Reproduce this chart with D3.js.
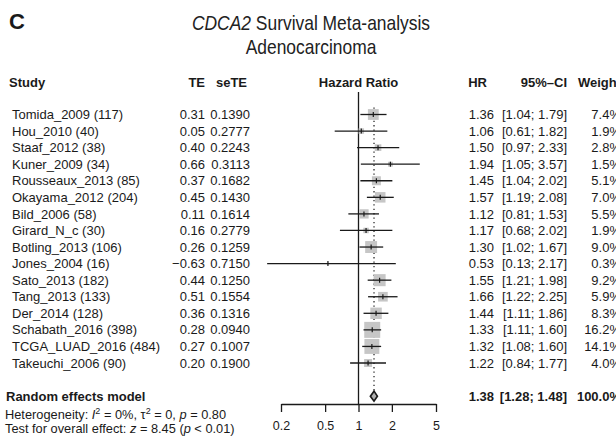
<!DOCTYPE html>
<html>
<head>
<meta charset="utf-8">
<script src="https://cdn.jsdelivr.net/npm/d3@7"></script>
<style>
  html, body { margin: 0; padding: 0; background: #fff; }
  svg { display: block; font-family: "Liberation Sans", Arial, Helvetica, sans-serif; }
  .cell { font-size: 13px; fill: #1a1a1a; }
  .head { font-size: 13px; font-weight: bold; fill: #1a1a1a; }
  .title { font-size: 20.5px; fill: #222; }
  .axis path, .axis line { stroke: #1a1a1a; stroke-width: 1.3; }
  .axis text { font-size: 12.5px; fill: #1a1a1a; font-family: "Liberation Sans", Arial, sans-serif; }
</style>
</head>
<body>
<svg id="chart" width="616" height="438"></svg>
<script>
// ---- data ----
const studies = ["Tomida_2009 (117)", "Hou_2010 (40)", "Staaf_2012 (38)", "Kuner_2009 (34)",
  "Rousseaux_2013 (85)", "Okayama_2012 (204)", "Bild_2006 (58)", "Girard_N_c (30)",
  "Botling_2013 (106)", "Jones_2004 (16)", "Sato_2013 (182)", "Tang_2013 (133)",
  "Der_2014 (128)", "Schabath_2016 (398)", "TCGA_LUAD_2016 (484)", "Takeuchi_2006 (90)"];
const te     = [0.31, 0.05, 0.40, 0.66, 0.37, 0.45, 0.11, 0.16, 0.26, -0.63, 0.44, 0.51, 0.36, 0.28, 0.27, 0.20];
const seTE   = [0.1390, 0.2777, 0.2243, 0.3113, 0.1682, 0.1430, 0.1614, 0.2779, 0.1259, 0.7150, 0.1250, 0.1554, 0.1316, 0.0940, 0.1007, 0.1900];
const hr     = [1.36, 1.06, 1.50, 1.94, 1.45, 1.57, 1.12, 1.17, 1.30, 0.53, 1.55, 1.66, 1.44, 1.33, 1.32, 1.22];
const ciLow  = [1.04, 0.61, 0.97, 1.05, 1.04, 1.19, 0.81, 0.68, 1.02, 0.13, 1.21, 1.22, 1.11, 1.11, 1.08, 0.84];
const ciHigh = [1.79, 1.82, 2.33, 3.57, 2.02, 2.08, 1.53, 2.02, 1.67, 2.17, 1.98, 2.25, 1.86, 1.60, 1.60, 1.77];
const weight = [7.4, 1.9, 2.8, 1.5, 5.1, 7.0, 5.5, 1.9, 9.0, 0.3, 9.2, 5.9, 8.3, 16.2, 14.1, 4.0];
const pooled = [1.38, 1.28, 1.48];   // HR, lower, upper
const pooledWeight = 100.0;
const axisTicks = [0.2, 0.5, 1, 2, 5];
const headers = ["Study", "TE", "seTE", "Hazard Ratio", "HR", "95%\u2013CI", "Weight"];

const svg = d3.select("#chart");
const ink = "#1a1a1a";

// log-scaled HR axis, rows on a linear index scale
const x = d3.scaleLog().domain([0.2, 5]).range([281, 436]);
const y = d3.scaleLinear().domain([0, studies.length - 1]).range([114.5, 363]);
const pooledRow = studies.length + 1;
const boxSize = d3.scaleSqrt().domain([0, d3.max(weight)]).range([0, 16]);
const ciClip = 0.15;   // lines are cut a little left of the axis, as in the original

const fmtMinus = s => s.replace("-", "\u2212");
const textDy = 4.6;

// ---- titles ----
svg.append("text").attr("x", 9).attr("y", 29)
  .style("font-size", "22px").style("font-weight", "bold").style("fill", ink).text("C");

// the original title face is a condensed Helvetica, so squeeze it horizontally
const titleG = svg.append("g").attr("transform", "translate(311,0) scale(0.85,1)");
const t1 = titleG.append("text").attr("class", "title").attr("x", 0).attr("y", 30).attr("text-anchor", "middle");
t1.append("tspan").style("font-style", "italic").text("CDCA2");
t1.append("tspan").text(" Survival Meta-analysis");
titleG.append("text").attr("class", "title").attr("x", 0).attr("y", 54).attr("text-anchor", "middle").text("Adenocarcinoma");

// ---- column headers ----
const headY = 87;
const colX = { study: 9, te: 205, se: 250, hrTxt: 489, ci: 567, w: 621 };
svg.append("text").attr("class", "head").attr("x", colX.study).attr("y", headY).text(headers[0]);
svg.append("text").attr("class", "head").attr("x", colX.te).attr("y", headY).attr("text-anchor", "end").text(headers[1]);
svg.append("text").attr("class", "head").attr("x", colX.se - 3).attr("y", headY).attr("text-anchor", "end").text(headers[2]);
svg.append("text").attr("class", "head").attr("x", x(1)).attr("y", headY).attr("text-anchor", "middle").text(headers[3]);
svg.append("text").attr("class", "head").attr("x", colX.hrTxt - 2).attr("y", headY).attr("text-anchor", "end").text(headers[4]);
svg.append("text").attr("class", "head").attr("x", colX.ci).attr("y", headY).attr("text-anchor", "end").text(headers[5]);
svg.append("text").attr("class", "head").attr("x", colX.w).attr("y", headY).attr("text-anchor", "end").text(headers[6]);

// ---- study rows (text) ----
const rows = svg.append("g").selectAll("g").data(studies).join("g")
  .attr("transform", (d, i) => `translate(0,${y(i) + textDy})`);
rows.append("text").attr("class", "cell").attr("x", 12).text(d => d);
rows.append("text").attr("class", "cell").attr("x", colX.te).attr("text-anchor", "end")
  .text((d, i) => fmtMinus(te[i].toFixed(2)));
rows.append("text").attr("class", "cell").attr("x", colX.se).attr("text-anchor", "end")
  .text((d, i) => seTE[i].toFixed(4));
rows.append("text").attr("class", "cell").attr("x", colX.hrTxt + 5).attr("text-anchor", "end")
  .text((d, i) => hr[i].toFixed(2));
rows.append("text").attr("class", "cell").attr("x", colX.ci).attr("text-anchor", "end")
  .text((d, i) => `[${ciLow[i].toFixed(2)}; ${ciHigh[i].toFixed(2)}]`);
rows.append("text").attr("class", "cell").attr("x", colX.w).attr("text-anchor", "end")
  .text((d, i) => weight[i].toFixed(1) + "%");

// ---- plot: reference lines ----
svg.append("line")
  .attr("x1", x(1)).attr("x2", x(1)).attr("y1", 92).attr("y2", 404)
  .attr("stroke", ink).attr("stroke-width", 1.3);
svg.append("line")
  .attr("x1", x(pooled[0])).attr("x2", x(pooled[0]))
  .attr("y1", y(0) - 7).attr("y2", y(pooledRow) - 5)
  .attr("stroke", ink).attr("stroke-width", 1.2).attr("stroke-dasharray", "1.3,3.1");

// ---- plot: squares, CI lines, estimate ticks ----
const marks = svg.append("g").selectAll("g").data(studies).join("g");
marks.append("rect")
  .attr("x", (d, i) => x(hr[i]) - boxSize(weight[i]) / 2)
  .attr("y", (d, i) => y(i) - boxSize(weight[i]) / 2)
  .attr("width", (d, i) => boxSize(weight[i]))
  .attr("height", (d, i) => boxSize(weight[i]))
  .attr("fill", "#c6c6c6");
marks.append("line")
  .attr("x1", (d, i) => x(Math.max(ciLow[i], ciClip)))
  .attr("x2", (d, i) => x(ciHigh[i]))
  .attr("y1", (d, i) => y(i)).attr("y2", (d, i) => y(i))
  .attr("stroke", ink).attr("stroke-width", 1.3);
marks.append("line")
  .attr("x1", (d, i) => x(hr[i])).attr("x2", (d, i) => x(hr[i]))
  .attr("y1", (d, i) => y(i) - 2.5).attr("y2", (d, i) => y(i) + 2.5)
  .attr("stroke", ink).attr("stroke-width", 1.2);

// ---- pooled estimate ----
const py = y(pooledRow);
svg.append("path")
  .attr("d", `M${x(pooled[1])},${py}L${x(pooled[0])},${py - 5}L${x(pooled[2])},${py}L${x(pooled[0])},${py + 5}Z`)
  .attr("fill", "#b0b0b0").attr("stroke", ink).attr("stroke-width", 1.7);

const pr = svg.append("g").attr("transform", `translate(0,${py + textDy})`);
pr.append("text").attr("class", "head").attr("x", 6).text("Random effects model");
pr.append("text").attr("class", "head").attr("x", colX.hrTxt + 5).attr("text-anchor", "end").text(pooled[0].toFixed(2));
pr.append("text").attr("class", "head").attr("x", colX.ci).attr("text-anchor", "end")
  .text(`[${pooled[1].toFixed(2)}; ${pooled[2].toFixed(2)}]`);
pr.append("text").attr("class", "head").attr("x", colX.w).attr("text-anchor", "end").text(pooledWeight.toFixed(1) + "%");

// ---- heterogeneity / overall effect ----
const het = svg.append("text").attr("class", "cell").attr("x", 5).attr("y", 419).style("font-size", "12.8px");
het.append("tspan").text("Heterogeneity: ");
het.append("tspan").style("font-style", "italic").text("I");
het.append("tspan").attr("dy", -5).style("font-size", "9px").text("2");
het.append("tspan").attr("dy", 5).text(" = 0%, \u03c4");
het.append("tspan").attr("dy", -5).style("font-size", "9px").text("2");
het.append("tspan").attr("dy", 5).text(" = 0, ");
het.append("tspan").style("font-style", "italic").text("p");
het.append("tspan").text(" = 0.80");

const ov = svg.append("text").attr("class", "cell").attr("x", 5).attr("y", 433).style("font-size", "12.8px");
ov.append("tspan").text("Test for overall effect: ");
ov.append("tspan").style("font-style", "italic").text("z");
ov.append("tspan").text(" = 8.45 (");
ov.append("tspan").style("font-style", "italic").text("p");
ov.append("tspan").text(" < 0.01)");

// ---- axis ----
svg.append("g").attr("class", "axis")
  .attr("transform", "translate(0,404)")
  .call(d3.axisBottom(x).tickValues(axisTicks).tickFormat(d3.format("")).tickSize(8).tickSizeOuter(0).tickPadding(9));
</script>
</body>
</html>
